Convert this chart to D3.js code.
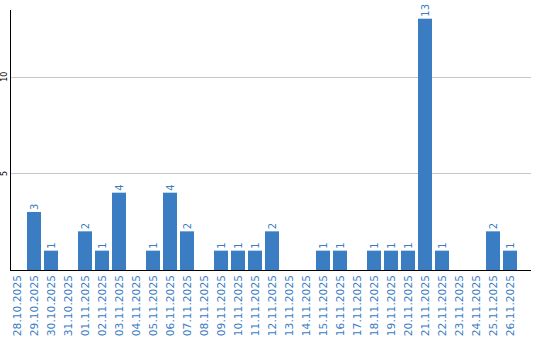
<!DOCTYPE html>
<html>
<head>
<meta charset="utf-8">
<script src="https://cdn.jsdelivr.net/npm/d3@7"></script>
<style>
  body { margin: 0; background: #fff; }
  svg { display: block; font-family: "DejaVu Sans", Verdana, sans-serif; }
</style>
</head>
<body>
<div id="chart"></div>
<script>
// --- data ---------------------------------------------------------------
const dates = [
  "28.10.2025","29.10.2025","30.10.2025","31.10.2025","01.11.2025","02.11.2025",
  "03.11.2025","04.11.2025","05.11.2025","06.11.2025","07.11.2025","08.11.2025",
  "09.11.2025","10.11.2025","11.11.2025","12.11.2025","13.11.2025","14.11.2025",
  "15.11.2025","16.11.2025","17.11.2025","18.11.2025","19.11.2025","20.11.2025",
  "21.11.2025","22.11.2025","23.11.2025","24.11.2025","25.11.2025","26.11.2025"
];
const counts = [0,3,1,0,2,1,4,0,1,4,2,0,1,1,1,2,0,0,1,1,0,1,1,1,13,1,0,0,2,1];
const yTicks = [5, 10];

// --- layout -------------------------------------------------------------
const width = 540, height = 340;
const plotL = 10, plotR = 531, plotT = 10, plotB = 270;
const barColor = "#3b7dc3";

const svg = d3.select("#chart").append("svg")
  .attr("width", width).attr("height", height);

const x = d3.scaleBand()
  .domain(dates)
  .range([plotL - 1.5, plotL - 1.5 + dates.length * 17])
  .paddingInner(3 / 17)
  .paddingOuter(1.5 / 17);

const y = d3.scaleLinear().domain([0, 13.45]).range([plotB, plotT]);

// gridlines
svg.append("g").selectAll("line")
  .data(yTicks)
  .join("line")
    .attr("x1", plotL).attr("x2", plotR)
    .attr("y1", d => Math.round(y(d)) + 0.5).attr("y2", d => Math.round(y(d)) + 0.5)
    .attr("stroke", "#c8c8c8");

// y tick labels (rotated)
svg.append("g").selectAll("text")
  .data(yTicks)
  .join("text")
    .attr("transform", d => `translate(7,${y(d)}) rotate(-90)`)
    .attr("text-anchor", "middle")
    .style("font-size", "8px")
    .attr("fill", "#000")
    .text(d => d);

// bars
const vals = dates.map((d, i) => ({ d, v: counts[i] }));
svg.append("g").selectAll("rect")
  .data(vals.filter(e => e.v > 0))
  .join("rect")
    .attr("x", e => x(e.d))
    .attr("y", e => y(e.v))
    .attr("width", x.bandwidth())
    .attr("height", e => plotB - y(e.v))
    .attr("fill", barColor);

// value labels
svg.append("g").selectAll("text")
  .data(vals.filter(e => e.v > 0))
  .join("text")
    .attr("transform", e => `translate(${x(e.d) + x.bandwidth() / 2},${y(e.v) - 2}) rotate(-90)`)
    .attr("dy", "0.35em")
    .attr("text-anchor", "start")
    .style("font-size", "10px")
    .attr("fill", barColor)
    .text(e => e.v);

// axes lines
svg.append("line")
  .attr("x1", plotL + 0.5).attr("x2", plotL + 0.5)
  .attr("y1", plotT).attr("y2", plotB + 1)
  .attr("stroke", "#000");
svg.append("line")
  .attr("x1", plotL).attr("x2", plotR)
  .attr("y1", plotB + 0.5).attr("y2", plotB + 0.5)
  .attr("stroke", "#000");

// x labels
svg.append("g").selectAll("text")
  .data(dates)
  .join("text")
    .attr("transform", d => `translate(${x(d) + x.bandwidth() / 2},${plotB + 5}) rotate(-90)`)
    .attr("dy", "0.35em")
    .attr("text-anchor", "end")
    .style("font-size", "10.7px")
    .attr("fill", barColor)
    .text(d => d);
</script>
</body>
</html>
